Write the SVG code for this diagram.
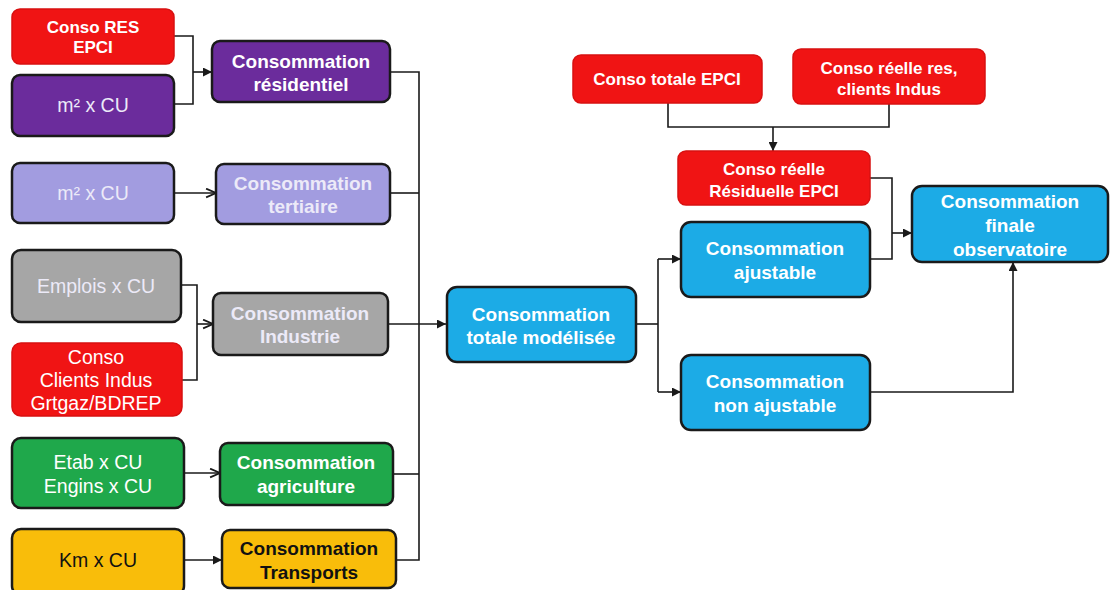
<svg xmlns="http://www.w3.org/2000/svg" width="1110" height="590" viewBox="0 0 1110 590">
  <defs>
    <marker id="arrFill" viewBox="0 0 10 10" refX="10" refY="5" markerWidth="9" markerHeight="9" markerUnits="userSpaceOnUse" orient="auto">
      <path d="M0,0 L10,5 L0,10 Z" fill="#1a1a1a"/>
    </marker>
    <marker id="arrOpen" viewBox="0 0 10 10" refX="10" refY="5" markerWidth="11" markerHeight="11" markerUnits="userSpaceOnUse" orient="auto">
      <path d="M1,1 L10,5 L1,9" fill="none" stroke="#1a1a1a" stroke-width="1.6"/>
    </marker>
    <style>
      .box { stroke: #1a1a1a; stroke-width: 2.5; }
      .redbox { fill: #f01414; stroke: #d81010; stroke-width: 1.5; }
      .purple { fill: #6b2c9c; }
      .lilac { fill: #a29ce0; }
      .grey { fill: #a6a6a6; }
      .green { fill: #1fa84b; }
      .orange { fill: #f9bd0a; }
      .blue { fill: #1cabe6; }
      text { font-family: "Liberation Sans", Arial, sans-serif; text-anchor: middle; }
      .b { font-weight: bold; fill: #ffffff; font-size: 19px; }
      .bs { font-weight: bold; fill: #ffffff; font-size: 17px; }
      .r { fill: #ffffff; font-size: 19.5px; }
      .lt { fill: #eceaf8; }
      .dk { fill: #111111; }
      .conn { fill: none; stroke: #1a1a1a; stroke-width: 1.6; }
    </style>
  </defs>

  <rect width="1110" height="590" fill="#ffffff"/>

  <!-- connectors -->
  <g id="connectors">
    <!-- residential inputs -->
    <path class="conn" d="M174,36 H193 V104 H174"/>
    <path class="conn" d="M193,72 H212" marker-end="url(#arrFill)"/>
    <!-- tertiary -->
    <path class="conn" d="M174,193 H216" marker-end="url(#arrOpen)"/>
    <!-- industry inputs -->
    <path class="conn" d="M181,285 H197 V380 H182"/>
    <path class="conn" d="M197,324 H213" marker-end="url(#arrOpen)"/>
    <!-- agriculture -->
    <path class="conn" d="M184,473 H220" marker-end="url(#arrOpen)"/>
    <!-- transport -->
    <path class="conn" d="M184,560 H222" marker-end="url(#arrFill)"/>
    <!-- sector totals gathered on the bus -->
    <path class="conn" d="M390,72 H419 V560 H396"/>
    <path class="conn" d="M390,193 H419"/>
    <path class="conn" d="M393,474 H419"/>
    <path class="conn" d="M388,324 H446" marker-end="url(#arrFill)"/>
    <!-- split of modelled total -->
    <path class="conn" d="M636,324 H658"/>
    <path class="conn" d="M658,259 V392"/>
    <path class="conn" d="M658,259 H681" marker-end="url(#arrFill)"/>
    <path class="conn" d="M658,392 H681" marker-end="url(#arrFill)"/>
    <!-- real consumption inputs -->
    <path class="conn" d="M668,103 V127 H889 V104"/>
    <path class="conn" d="M773,127 V151" marker-end="url(#arrFill)"/>
    <!-- residual + adjustable to final -->
    <path class="conn" d="M870,178 H892 V259 H870"/>
    <path class="conn" d="M892,233 H912" marker-end="url(#arrFill)"/>
    <!-- non adjustable to final -->
    <path class="conn" d="M870,392 H1013 V262" marker-end="url(#arrFill)"/>
  </g>

  <!-- input boxes -->
  <g id="conso-res-epci">
    <rect class="redbox" x="12" y="9" width="162" height="55" rx="8"/>
    <text class="bs" x="93" y="33">Conso RES</text>
    <text class="bs" x="93" y="53">EPCI</text>
  </g>
  <g id="m2-cu-res">
    <rect class="box purple" x="12" y="75" width="162" height="61" rx="8"/>
    <text class="r lt" x="93" y="112">m² x CU</text>
  </g>
  <g id="m2-cu-ter">
    <rect class="box lilac" x="12" y="163" width="162" height="60" rx="8"/>
    <text class="r lt" x="93" y="200">m² x CU</text>
  </g>
  <g id="emplois-cu">
    <rect class="box grey" x="12" y="250" width="169" height="72" rx="9"/>
    <text class="r lt" x="96" y="293">Emplois x CU</text>
  </g>
  <g id="conso-clients-indus">
    <rect class="redbox" x="12" y="343" width="170" height="73" rx="9"/>
    <text class="r" x="96" y="364">Conso</text>
    <text class="r" x="96" y="387">Clients Indus</text>
    <text class="r" x="96" y="410">Grtgaz/BDREP</text>
  </g>
  <g id="etab-engins-cu">
    <rect class="box green" x="12" y="438" width="172" height="70" rx="9"/>
    <text class="r" x="98" y="469">Etab x CU</text>
    <text class="r" x="98" y="493">Engins x CU</text>
  </g>
  <g id="km-cu">
    <rect class="box orange" x="12" y="529" width="172" height="66" rx="9"/>
    <text class="r dk" x="98" y="567">Km x CU</text>
  </g>

  <!-- sector totals -->
  <g id="conso-residentiel">
    <rect class="box purple" x="212" y="41" width="178" height="61" rx="8"/>
    <text class="b" x="301" y="68">Consommation</text>
    <text class="b" x="301" y="91">résidentiel</text>
  </g>
  <g id="conso-tertiaire">
    <rect class="box lilac" x="216" y="164" width="174" height="60" rx="8"/>
    <text class="b lt" x="303" y="190">Consommation</text>
    <text class="b lt" x="303" y="213">tertiaire</text>
  </g>
  <g id="conso-industrie">
    <rect class="box grey" x="213" y="293" width="175" height="62" rx="8"/>
    <text class="b lt" x="300" y="320">Consommation</text>
    <text class="b lt" x="300" y="343">Industrie</text>
  </g>
  <g id="conso-agriculture">
    <rect class="box green" x="220" y="443" width="173" height="62" rx="8"/>
    <text class="b" x="306" y="469">Consommation</text>
    <text class="b" x="306" y="493">agriculture</text>
  </g>
  <g id="conso-transports">
    <rect class="box orange" x="222" y="530" width="174" height="58" rx="8"/>
    <text class="b dk" x="309" y="555">Consommation</text>
    <text class="b dk" x="309" y="579">Transports</text>
  </g>

  <!-- modelled total and adjustment -->
  <g id="conso-totale-modelisee">
    <rect class="box blue" x="447" y="287" width="189" height="75" rx="10"/>
    <text class="b" x="541" y="321">Consommation</text>
    <text class="b" x="541" y="344">totale modélisée</text>
  </g>
  <g id="conso-totale-epci">
    <rect class="redbox" x="573" y="55" width="189" height="48" rx="8"/>
    <text class="bs" x="667" y="85">Conso totale EPCI</text>
  </g>
  <g id="conso-reelle-res-indus">
    <rect class="redbox" x="793" y="49" width="192" height="55" rx="8"/>
    <text class="bs" x="889" y="74">Conso réelle res,</text>
    <text class="bs" x="889" y="95">clients Indus</text>
  </g>
  <g id="conso-reelle-residuelle">
    <rect class="redbox" x="678" y="151" width="192" height="54" rx="8"/>
    <text class="bs" x="774" y="175">Conso réelle</text>
    <text class="bs" x="774" y="197">Résiduelle EPCI</text>
  </g>
  <g id="conso-ajustable">
    <rect class="box blue" x="681" y="222" width="189" height="75" rx="10"/>
    <text class="b" x="775" y="255">Consommation</text>
    <text class="b" x="775" y="279">ajustable</text>
  </g>
  <g id="conso-non-ajustable">
    <rect class="box blue" x="681" y="355" width="189" height="75" rx="10"/>
    <text class="b" x="775" y="388">Consommation</text>
    <text class="b" x="775" y="412">non ajustable</text>
  </g>
  <g id="conso-finale-observatoire">
    <rect class="box blue" x="912" y="186" width="196" height="76" rx="10"/>
    <text class="b" x="1010" y="208">Consommation</text>
    <text class="b" x="1010" y="232">finale</text>
    <text class="b" x="1010" y="256">observatoire</text>
  </g>
</svg>
